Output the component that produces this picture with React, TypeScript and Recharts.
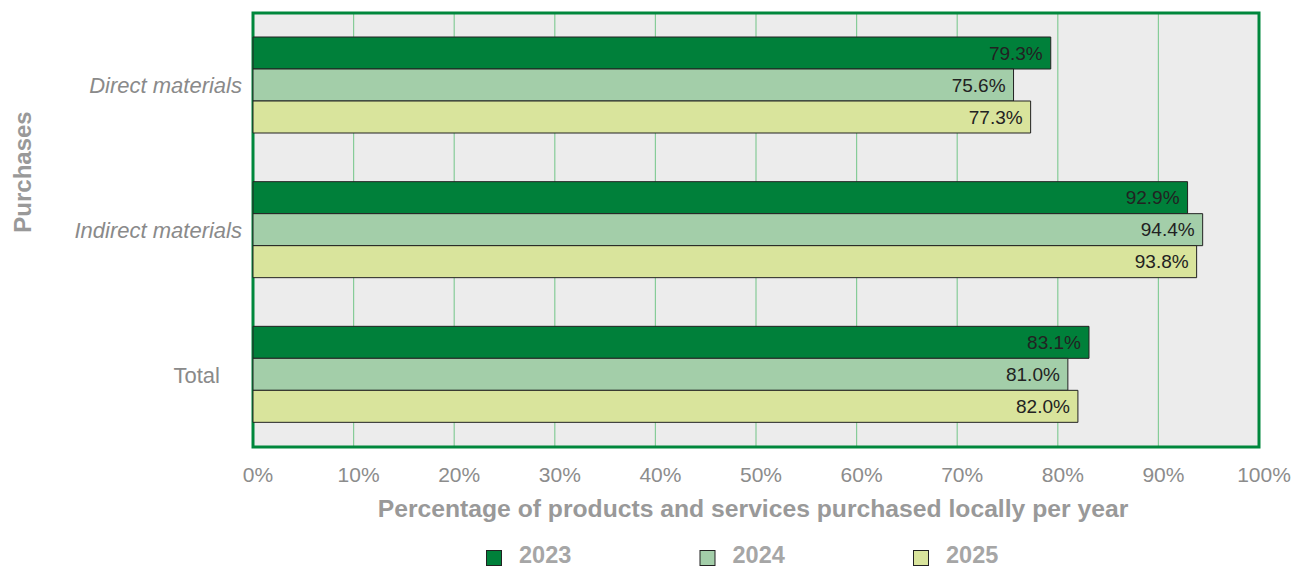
import React from 'react';
import {
  BarChart,
  Bar,
  XAxis,
  YAxis,
  CartesianGrid,
  LabelList,
  Legend,
  ReferenceArea,
  Label,
} from 'recharts';

const categories = ['Direct materials', 'Indirect materials', 'Total'];
const values2023 = [79.3, 92.9, 83.1];
const values2024 = [75.6, 94.4, 81.0];
const values2025 = [77.3, 93.8, 82.0];
const xTicks = [0, 10, 20, 30, 40, 50, 60, 70, 80, 90, 100];
const seriesNames = ['2023', '2024', '2025'];
const seriesColors = ['#00803a', '#a3cea9', '#d9e49c'];

const data = categories.map((name, i) => ({
  name,
  y2023: values2023[i],
  y2024: values2024[i],
  y2025: values2025[i],
}));

const FONT = '"Liberation Sans", Arial, Helvetica, sans-serif';

const CategoryTick = (props: any) => {
  const { x, y, payload } = props;
  const isTotal = payload.value === 'Total';
  return (
    <text
      x={x}
      y={y}
      dx={isTotal ? -22 : 0}
      dy="0.36em"
      textAnchor="end"
      fill="#8a8a8a"
      fontSize={22}
      fontFamily={FONT}
      fontStyle={isTotal ? 'normal' : 'italic'}
    >
      {payload.value}
    </text>
  );
};

const LegendContent = (props: any) => {
  const { payload } = props;
  return (
    <svg width={1294} height={40} style={{ display: 'block' }}>
      {(payload || []).map((entry: any, i: number) => {
        const x0 = 486 + i * 213.5;
        return (
          <g key={entry.value}>
            <rect x={x0 + 0.5} y={22.5} width={15} height={15} fill={entry.color} stroke="#222" strokeWidth={1} />
            <text x={x0 + 33} y={35} fill="#a6a6a6" fontSize={23.5} fontWeight="bold" fontFamily={FONT}>
              {entry.value}
            </text>
          </g>
        );
      })}
    </svg>
  );
};

export default function App() {
  return (
    <div style={{ position: 'absolute', left: 0, top: 0, width: 1294, height: 568, background: '#fff' }}>
      <BarChart
        width={1294}
        height={568}
        data={data}
        layout="vertical"
        margin={{ top: 13, right: 35, bottom: 0, left: 0 }}
        barSize={32}
        barGap={0}
      >
        <CartesianGrid fill="#ececec" horizontal={false} vertical stroke="#86cc98" strokeWidth={1.2} />
        <XAxis
          type="number"
          domain={[0, 100]}
          ticks={xTicks}
          tickFormatter={(v: number) => `${v}%`}
          tickLine={false}
          axisLine={false}
          tickSize={0}
          tickMargin={20}
          height={81}
          interval={0}
          tick={{ fill: '#8c8c8c', fontSize: 21, fontFamily: FONT, dx: 5 }}
        >
          <Label
            content={(p: any) => {
              const vb = p.viewBox || { x: 253, y: 447, width: 1006 };
              return (
                <text
                  x={vb.x + vb.width / 2 - 3}
                  y={vb.y + 70}
                  textAnchor="middle"
                  fill="#999999"
                  fontSize={24.7}
                  fontWeight="bold"
                  fontFamily={FONT}
                >
                  Percentage of products and services purchased locally per year
                </text>
              );
            }}
          />
        </XAxis>
        <YAxis
          type="category"
          dataKey="name"
          width={253}
          tickLine={false}
          axisLine={false}
          tickSize={0}
          tickMargin={11}
          tick={<CategoryTick />}
          interval={0}
        >
          <Label
            content={() => (
              <text
                x={31}
                y={172}
                transform="rotate(-90, 31, 172)"
                textAnchor="middle"
                fill="#999999"
                fontSize={24}
                fontWeight="bold"
                fontFamily={FONT}
              >
                Purchases
              </text>
            )}
          />
        </YAxis>
        <Legend verticalAlign="bottom" height={40} content={<LegendContent />} wrapperStyle={{ left: 0, width: 1294 }} />
        {(['y2023', 'y2024', 'y2025'] as const).map((key, i) => (
          <Bar
            key={key}
            dataKey={key}
            name={seriesNames[i]}
            fill={seriesColors[i]}
            stroke="#222"
            strokeWidth={1}
            isAnimationActive={false}
          >
            <LabelList
              dataKey={key}
              position="insideRight"
              offset={8}
              formatter={(v: any) => `${Number(v).toFixed(1)}%`}
              fill="#222"
              fontSize={19}
              fontFamily={FONT}
            />
          </Bar>
        ))}
        <ReferenceArea x1={0} x2={100} fill="none" stroke="#00873c" strokeWidth={3} ifOverflow="visible" />
      </BarChart>
    </div>
  );
}
